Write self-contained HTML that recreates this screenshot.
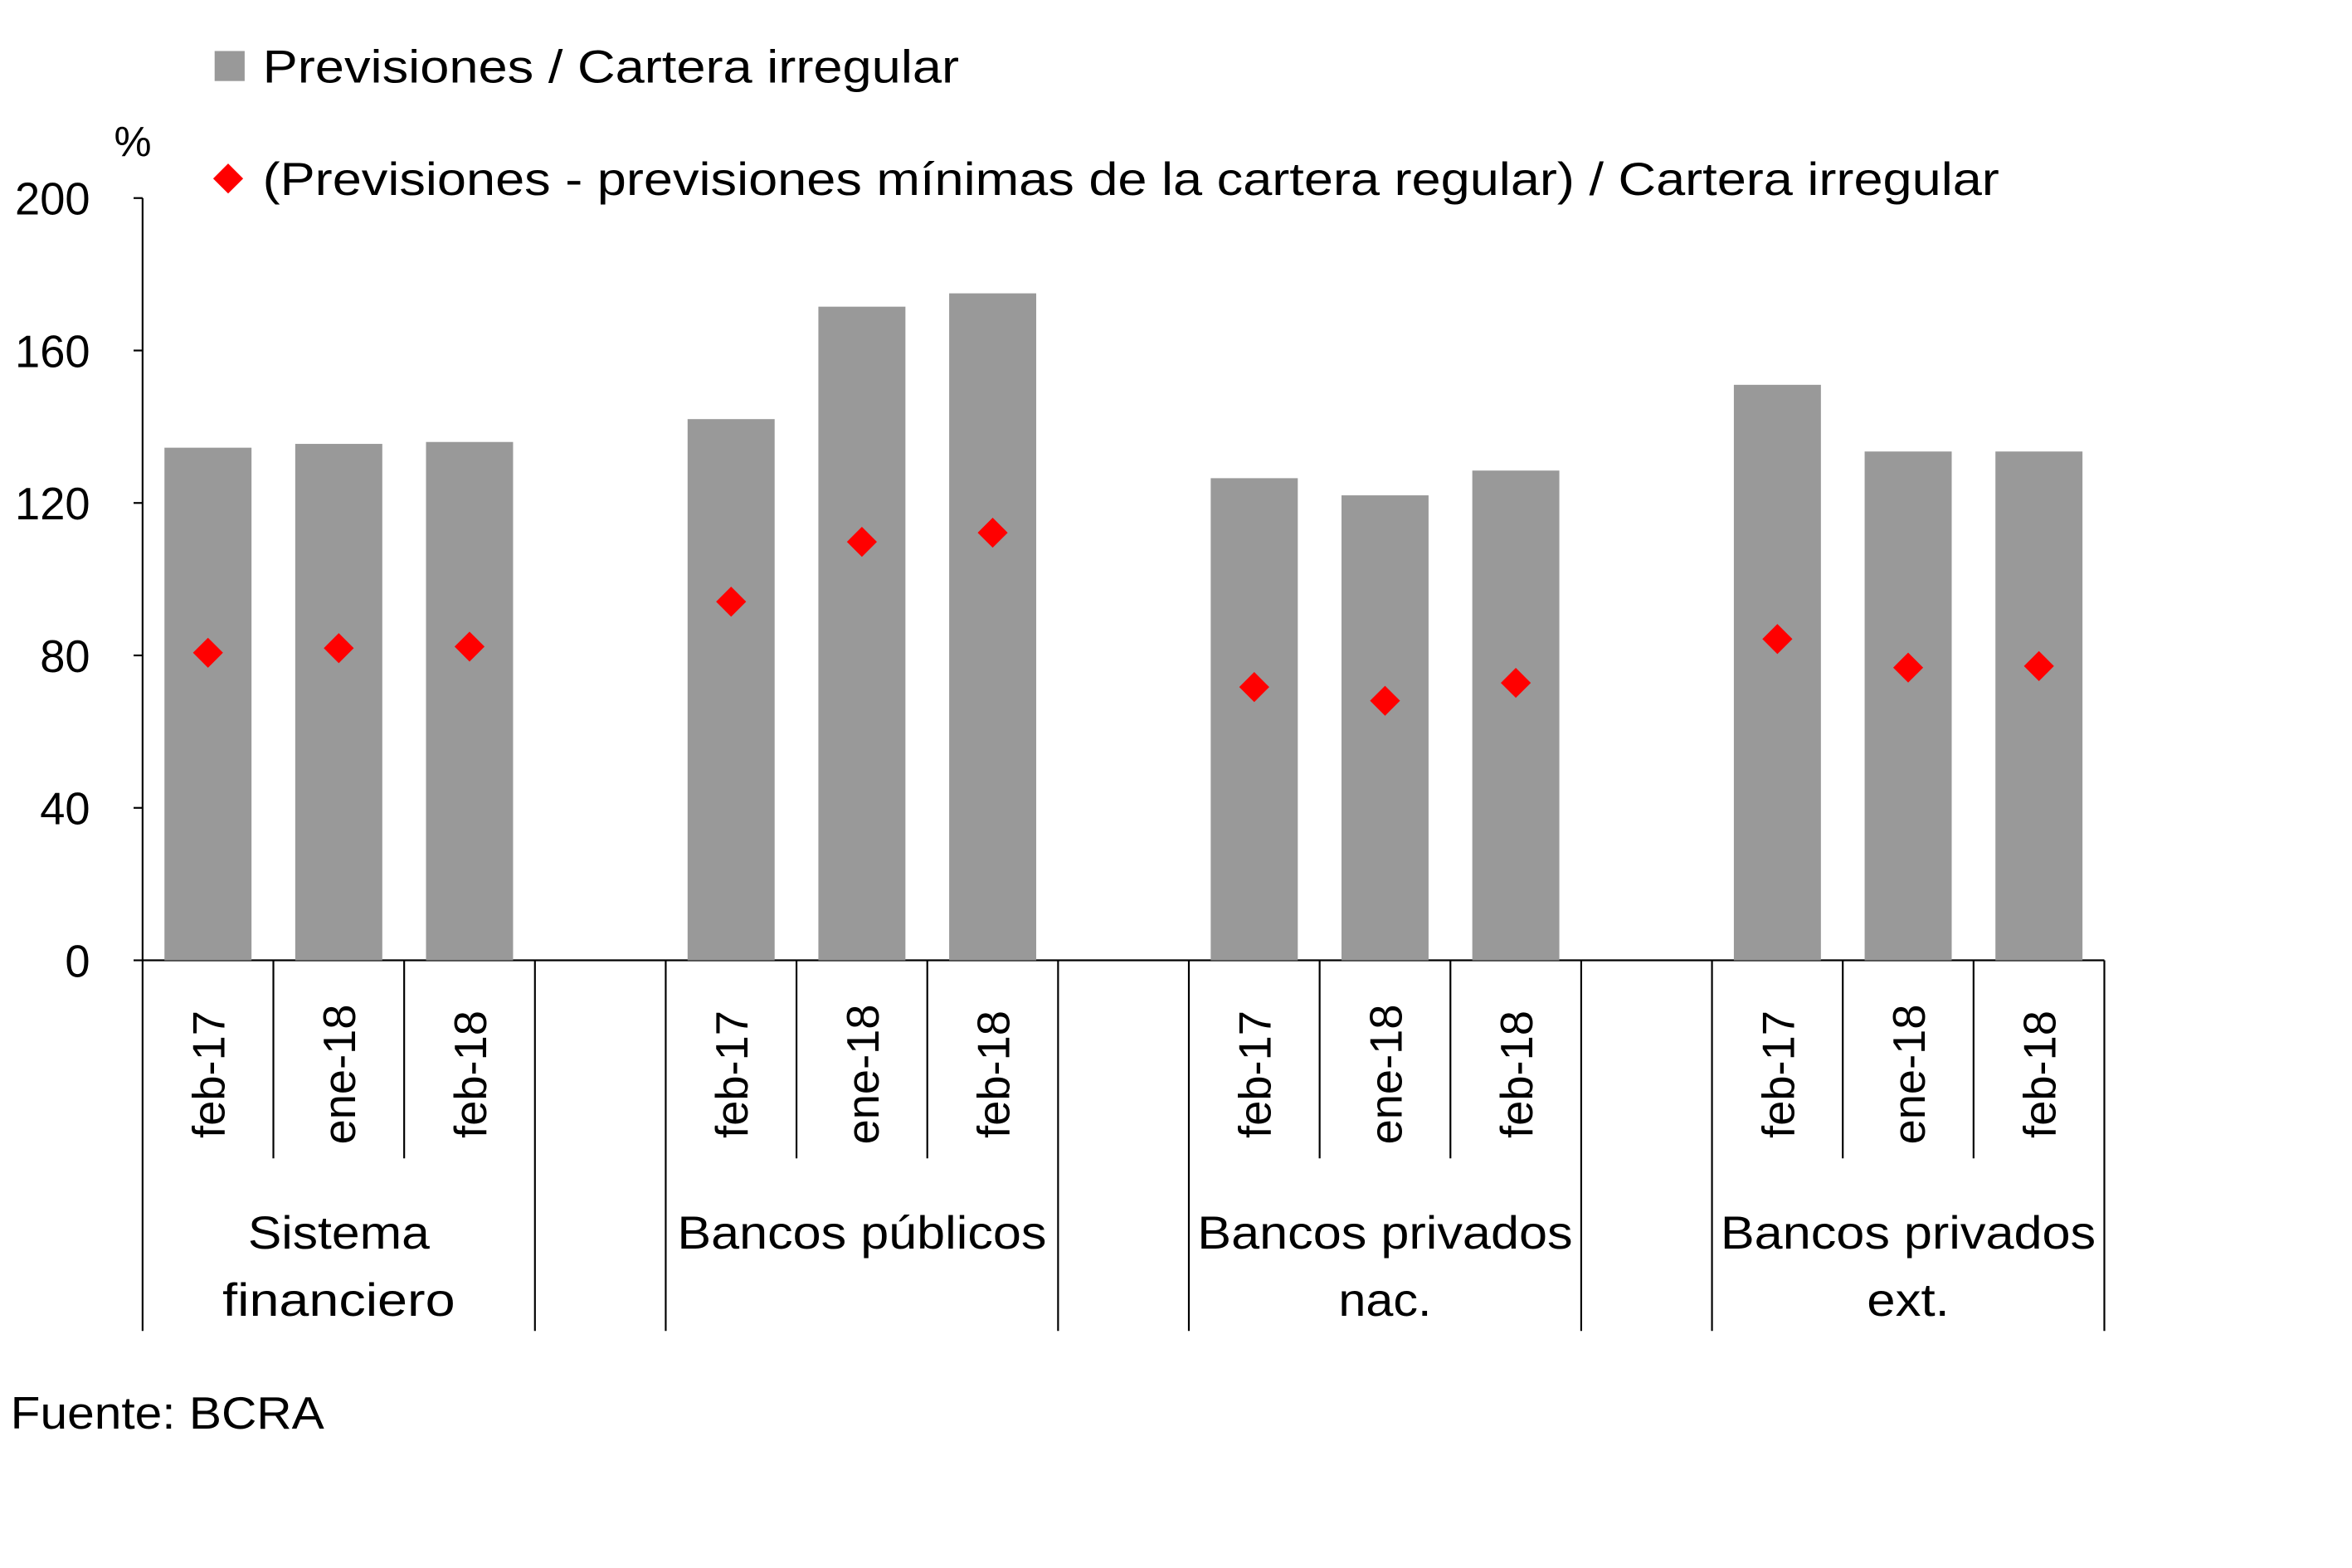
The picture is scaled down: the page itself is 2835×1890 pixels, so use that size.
<!DOCTYPE html>
<html><head><meta charset="utf-8"><style>
html,body{margin:0;padding:0;background:#fff;}
svg{display:block;}
text{font-family:"Liberation Sans",sans-serif;fill:#000;}
</style></head><body>
<svg id="chart" width="2835" height="1890" viewBox="0 0 1567 1045" preserveAspectRatio="none" xmlns="http://www.w3.org/2000/svg">
<g id="legend">
 <rect x="143" y="34" width="20" height="20" fill="#999"/>
 <text x="175" y="55" font-size="31" textLength="464" lengthAdjust="spacingAndGlyphs">Previsiones / Cartera irregular</text>
 <path d="M152 109 L162 119 L152 129 L142 119 Z" fill="#f00"/>
 <text x="175" y="130" font-size="31" textLength="1157" lengthAdjust="spacingAndGlyphs">(Previsiones - previsiones mínimas de la cartera regular) / Cartera irregular</text>
</g>
<text x="76" y="104" font-size="28">%</text>
<g id="axes"></g>
<g id="marks"></g>
<text x="7" y="952" font-size="30" textLength="209" lengthAdjust="spacingAndGlyphs">Fuente:  BCRA</text>
</svg>
<script>
const groups = ["Sistema|financiero","Bancos públicos","Bancos privados|nac.","Bancos privados|ext."];
const periods = ["feb-17","ene-18","feb-18"];
const barValues = [134.5,135.5,136, 142,171.5,175, 126.5,122,128.5, 151,133.5,133.5];
const diamondValues = [80.7,81.9,82.3, 94.1,109.8,112.2, 71.7,68.1,72.8, 84.3,76.8,77.2];
const yTicks = [0,40,80,120,160,200];

const NS="http://www.w3.org/2000/svg";
const x0=95, x1=1402, y0=640, yTop=132, yMax=200;
const nSlots=15, slotW=(x1-x0)/nSlots;
const yS=v=>y0-(y0-yTop)*v/yMax;
const slotIndex=i=>Math.floor(i/3)*4+(i%3);
const xC=i=>x0+slotW*(slotIndex(i)+0.5);
const groupLens={"Sistema":121,"financiero":155,"Bancos públicos":246,"Bancos privados":250,"nac.":62,"ext.":55};
function el(tag,attrs,parent,txt){const e=document.createElementNS(NS,tag);for(const k in attrs)e.setAttribute(k,attrs[k]);if(txt!==undefined)e.textContent=txt;parent.appendChild(e);return e;}
const axes=document.getElementById('axes'), marks=document.getElementById('marks');

let a=el('line',{x1:x0,y1:yTop,x2:x0,y2:y0,stroke:'#000','stroke-width':1.2},axes);


yTicks.forEach(t=>{
 let l=el('line',{x1:x0-6,y1:yS(t),x2:x0,y2:yS(t),stroke:'#000','stroke-width':1.2},axes);
 
 
 let tx=el('text',{x:60,y:yS(t)+11,'font-size':30,'text-anchor':'end'},axes,String(t));
 
 
});
let xa=el('line',{x1:x0,y1:y0,x2:x1,y2:y0,stroke:'#000','stroke-width':1.2},axes);


for(let s=0;s<=nSlots;s++){
 const x=x0+slotW*s;
 const full=(s%4===0)||(s%4===3)||s===nSlots;
 let l=el('line',{x1:x,y1:y0,x2:x,y2:full?887:772,stroke:'#000','stroke-width':1.2},axes);
 
 
}
barValues.forEach((v,i)=>{
 const cx=xC(i);
 let t=el('text',{x:0,y:0,'font-size':30,'text-anchor':'middle',transform:`translate(${cx+11},716) rotate(-90)`},axes,periods[i%3]);
 
 
});
groups.forEach((g,gi)=>{
 const cx=x0+slotW*(gi*4+1.5);
 g.split('|').forEach((line,li)=>{
  let t=el('text',{x:cx,y:832+li*45,'font-size':31,'text-anchor':'middle',textLength:groupLens[line]||100,lengthAdjust:'spacingAndGlyphs'},axes,line);
  
  
 });
});
const bw=58;
barValues.forEach((v,i)=>{
 let r=el('rect',{x:xC(i)-bw/2,y:yS(v),width:bw,height:y0-yS(v),fill:'#999'},marks);
 
 
});
diamondValues.forEach((v,i)=>{
 const cx=xC(i), cy=yS(v), d=10;
 let p=el('path',{d:`M${cx} ${cy-d} L${cx+d} ${cy} L${cx} ${cy+d} L${cx-d} ${cy} Z`,fill:'#f00'},marks);
 
 
});
</script>
</body></html>
